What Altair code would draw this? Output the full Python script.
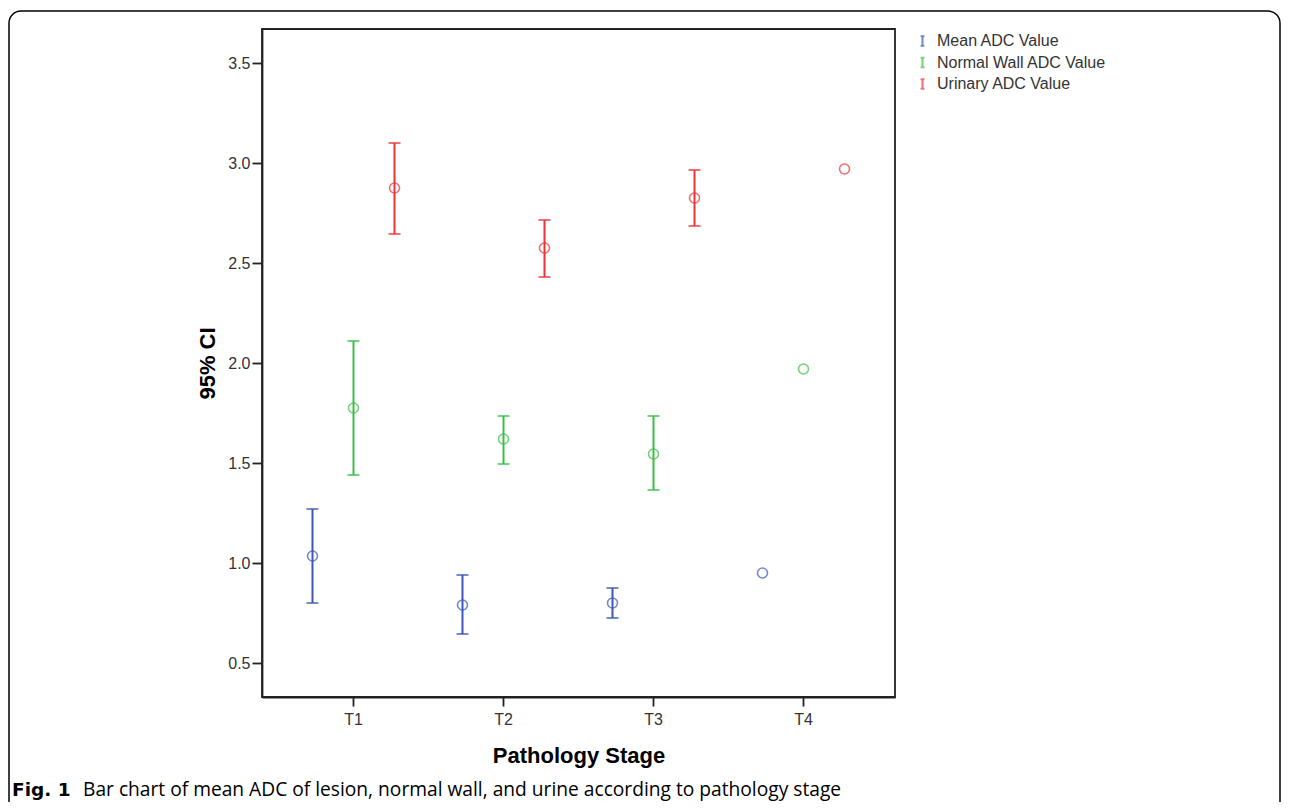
import altair as alt
import pandas as pd

stages = ["T1", "T2", "T3", "T4"]
series = ["Mean ADC Value", "Normal Wall ADC Value", "Urinary ADC Value"]
colors = ["#3D57B8", "#3CBE46", "#EE3238"]

mean_adc = [1.035, 0.79, 0.80, 0.95]
mean_lo = [0.80, 0.645, 0.725, None]
mean_hi = [1.27, 0.94, 0.875, None]

wall_adc = [1.775, 1.62, 1.545, 1.97]
wall_lo = [1.44, 1.495, 1.365, None]
wall_hi = [2.11, 1.735, 1.735, None]

urine_adc = [2.875, 2.575, 2.825, 2.97]
urine_lo = [2.645, 2.43, 2.685, None]
urine_hi = [3.10, 2.715, 2.965, None]

y_ticks = [0.5, 1.0, 1.5, 2.0, 2.5, 3.0, 3.5]

caption_bold = "Fig. 1"
caption_rest = "Bar chart of mean ADC of lesion, normal wall, and urine according to pathology stage"

rows = []
for name, m, lo, hi in [
    (series[0], mean_adc, mean_lo, mean_hi),
    (series[1], wall_adc, wall_lo, wall_hi),
    (series[2], urine_adc, urine_lo, urine_hi),
]:
    for i, st in enumerate(stages):
        rows.append({"stage": st, "series": name, "mean": m[i], "lo": lo[i], "hi": hi[i]})
df = pd.DataFrame(rows)

FONT = "Liberation Sans"

yscale = alt.Scale(domain=[0.33, 3.67], nice=False, zero=False)
yaxis = alt.Axis(values=y_ticks, format=".1f", grid=False, title="95% CI",
                 tickSize=10, labelPadding=2, titlePadding=8)
x_enc = alt.X("stage:N", sort=stages,
              scale=alt.Scale(paddingInner=0, paddingOuter=0.11),
              axis=alt.Axis(title="Pathology Stage", labelAngle=0, tickSize=9,
                            labelPadding=5, titlePadding=18, grid=False))
xoff = alt.XOffset("series:N", sort=series,
                   scale=alt.Scale(domain=series, paddingInner=0, paddingOuter=0.329))
color = alt.Color("series:N", scale=alt.Scale(domain=series, range=colors),
                  legend=alt.Legend(title=None))

base = alt.Chart(df)
valid = base.transform_filter("isValid(datum.lo)")

rules = valid.mark_rule(strokeWidth=2).encode(
    x=x_enc, xOffset=xoff,
    y=alt.Y("lo:Q", scale=yscale, axis=yaxis), y2="hi:Q", color=color)
cap_lo = valid.mark_tick(size=12, thickness=2, orient="horizontal").encode(
    x=x_enc, xOffset=xoff, y=alt.Y("lo:Q", scale=yscale, axis=yaxis), color=color)
cap_hi = valid.mark_tick(size=12, thickness=2, orient="horizontal").encode(
    x=x_enc, xOffset=xoff, y=alt.Y("hi:Q", scale=yscale, axis=yaxis), color=color)
points = base.mark_point(shape="circle", filled=False, size=100, strokeWidth=1.6).encode(
    x=x_enc, xOffset=xoff, y=alt.Y("mean:Q", scale=yscale, axis=yaxis), color=color)

one = alt.Data(values=[{}])
border = alt.Chart(one).mark_rect(fill="transparent", stroke="black", strokeWidth=1.5,
                                  cornerRadius=12).encode(
    x=alt.value(-253), x2=alt.value(1018), y=alt.value(-18), y2=alt.value(840))
cap1 = alt.Chart(one).mark_text(text=caption_bold, font="DejaVu Sans", fontWeight="bold",
                                fontSize=18.5, align="left", baseline="alphabetic",
                                color="black").encode(x=alt.value(-250), y=alt.value(767))
cap2 = alt.Chart(one).mark_text(text=caption_rest, font="Open Sans", fontSize=19.2,
                                align="left", baseline="alphabetic",
                                color="black").encode(x=alt.value(-179), y=alt.value(767))

chart = alt.layer(border, rules, cap_lo, cap_hi, points, cap1, cap2).properties(
    width=633, height=668,
    padding={"left": 254, "top": 21, "right": 387, "bottom": 105},
    autosize=alt.AutoSizeParams(type="none"),
).configure_view(
    stroke="#222222", strokeWidth=1.8
).configure_axis(
    domainColor="#222222", domainWidth=1.8, tickColor="#222222", tickWidth=1.8,
    labelFont=FONT, labelFontSize=16, labelColor="#333333",
    titleFont=FONT, titleFontSize=22, titleFontWeight="bold", titleColor="black",
).configure_legend(
    orient="none", legendX=652.5, legendY=4, padding=0,
    symbolType="M-0.4,-1H0.4M0,-1V1M-0.4,1H0.4", symbolSize=90,
    symbolStrokeWidth=2, labelFont=FONT, labelFontSize=16, labelColor="#333333",
    labelOffset=6.5, rowPadding=3.5, labelLimit=400,
)

chart.save("out.html", embed_options={"renderer": "svg", "actions": False})
